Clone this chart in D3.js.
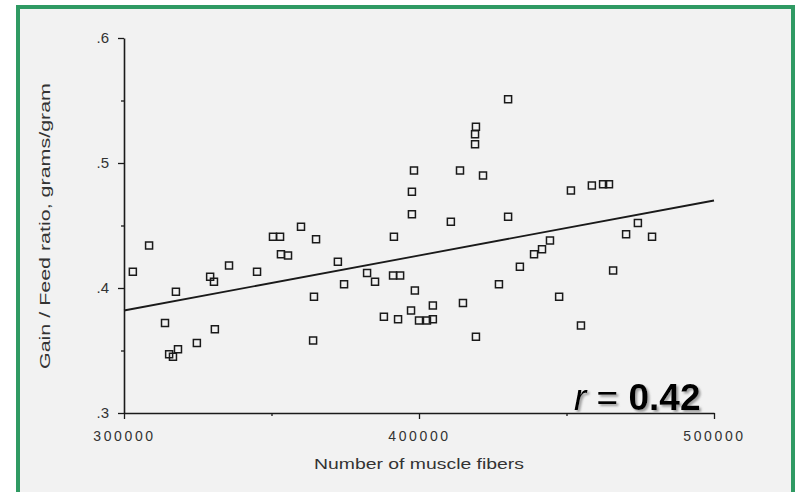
<!DOCTYPE html>
<html>
<head>
<meta charset="utf-8">
<script src="https://cdn.jsdelivr.net/npm/d3@7"></script>
<style>
  html, body { margin: 0; padding: 0; background: #fff; }
  svg { display: block; font-family: "Liberation Sans", Arial, sans-serif; }
</style>
</head>
<body>
<div id="main"></div>
<script>
// number of muscle fibers vs gain / feed ratio
const fiberCount = [
  303000, 308500, 317600, 313900, 315300, 316600, 318300, 324700, 329200, 330500,
  330800, 335600, 345100, 350500, 352900, 353200, 355600, 360000, 365100, 364400,
  364100, 372500, 382400, 374600, 385100, 391200, 393600, 391500, 398600, 404700,
  397300, 388100, 392900, 400000, 402700, 404700, 414900, 419300, 410800, 427100,
  430200, 419300, 419000, 419000, 398300, 413900, 421700, 397600, 397600,
  430200, 451500, 458600, 462400, 464400, 474200, 470200, 479000, 444400, 441700,
  439000, 434200, 465800, 447500, 454900
];
const gainFeed = [
  0.413, 0.434, 0.397, 0.372, 0.347, 0.345, 0.351, 0.356, 0.409, 0.405,
  0.367, 0.418, 0.413, 0.441, 0.441, 0.427, 0.426, 0.449, 0.439, 0.393,
  0.358, 0.421, 0.412, 0.403, 0.405, 0.410, 0.410, 0.441, 0.398, 0.386,
  0.382, 0.377, 0.375, 0.374, 0.374, 0.375, 0.388, 0.361, 0.453, 0.403,
  0.551, 0.529, 0.523, 0.515, 0.494, 0.494, 0.490, 0.477, 0.459,
  0.457, 0.478, 0.482, 0.483, 0.483, 0.452, 0.443, 0.441, 0.438, 0.431,
  0.427, 0.417, 0.414, 0.393, 0.370
];

// fitted line, ends
const fitX = [300000, 500000];
const fitY = [0.382, 0.470];

const yTicks = [0.3, 0.4, 0.5, 0.6];
const yMinor = [0.35, 0.45, 0.55];
const xTicks = [300000, 400000, 500000];
const xMinor = [350000, 450000];

const width = 796;
const height = 492;

const svg = d3.select("#main")
  .append("svg")
  .attr("width", width)
  .attr("height", height);

// soft shadow for the r label
svg.append("defs")
  .append("filter")
  .attr("id", "shade")
  .append("feDropShadow")
  .attr("dx", 2)
  .attr("dy", 2)
  .attr("stdDeviation", 0.8)
  .attr("flood-color", "#888")
  .attr("flood-opacity", 0.8);

// green frame with grey paper
svg.append("rect")
  .attr("x", 18)
  .attr("y", 7)
  .attr("width", 775)
  .attr("height", 500)
  .attr("fill", "#f2f2f2")
  .attr("stroke", "#2f9a63")
  .attr("stroke-width", 4);

const x = d3.scaleLinear().domain([300000, 500000]).range([124, 714]);
const y = d3.scaleLinear().domain([0.3, 0.6]).range([413, 38]);

const ink = "#1a1a1a";

// y axis
const yAxis = svg.append("g")
  .attr("transform", "translate(124,0)")
  .call(d3.axisLeft(y)
    .tickValues(yTicks)
    .tickSize(6)
    .tickSizeOuter(0)
    .tickPadding(9)
    .tickFormat(d => d3.format(".1f")(d).replace(/^0/, "")));

svg.append("g")
  .attr("transform", "translate(124,0)")
  .call(d3.axisLeft(y).tickValues(yMinor).tickSize(3).tickFormat(""))
  .select(".domain").remove();

// x axis
const xAxis = svg.append("g")
  .attr("transform", "translate(0,413)")
  .call(d3.axisBottom(x)
    .tickValues(xTicks)
    .tickSize(6)
    .tickSizeOuter(0)
    .tickPadding(12)
    .tickFormat(d3.format("d")));

svg.append("g")
  .attr("transform", "translate(0,413)")
  .call(d3.axisBottom(x).tickValues(xMinor).tickSize(3).tickFormat(""))
  .select(".domain").remove();

svg.selectAll(".domain").attr("stroke", ink).attr("stroke-width", 1.6);
svg.selectAll(".tick line").attr("stroke", ink).attr("stroke-width", 1.3);

yAxis.selectAll("text")
  .attr("fill", "#333")
  .style("font-size", "15px");

xAxis.selectAll("text")
  .attr("fill", "#333")
  .style("font-size", "14px")
  .style("letter-spacing", "2.6px");

// axis titles
svg.append("text")
  .attr("transform", "translate(50,226) rotate(-90)")
  .attr("text-anchor", "middle")
  .attr("fill", "#333")
  .attr("textLength", 286)
  .attr("lengthAdjust", "spacingAndGlyphs")
  .style("font-size", "14px")
  .text("Gain / Feed ratio, grams/gram");

svg.append("text")
  .attr("x", 419)
  .attr("y", 469)
  .attr("text-anchor", "middle")
  .attr("fill", "#333")
  .attr("textLength", 210)
  .attr("lengthAdjust", "spacingAndGlyphs")
  .style("font-size", "15px")
  .text("Number of muscle fibers");

// regression line
svg.append("line")
  .attr("x1", x(fitX[0]))
  .attr("y1", y(fitY[0]))
  .attr("x2", x(fitX[1]))
  .attr("y2", y(fitY[1]))
  .attr("stroke", ink)
  .attr("stroke-width", 1.8);

// points
const pts = fiberCount.map((f, i) => ({ f: f, g: gainFeed[i] }));
const s = 7;
svg.append("g")
  .selectAll("rect")
  .data(pts)
  .join("rect")
  .attr("x", d => x(d.f) - s / 2)
  .attr("y", d => y(d.g) - s / 2)
  .attr("width", s)
  .attr("height", s)
  .attr("fill", "none")
  .attr("stroke", ink)
  .attr("stroke-width", 1.5);

// r annotation
const note = [
  { t: "r", style: "italic", weight: "normal" },
  { t: " = ", style: "normal", weight: "normal" },
  { t: "0.42", style: "normal", weight: "bold" }
];
const rText = svg.append("text")
  .attr("x", 574)
  .attr("y", 410)
  .attr("fill", "#000")
  .attr("filter", "url(#shade)")
  .style("font-size", "37px");
note.forEach(n => {
  rText.append("tspan")
    .style("font-style", n.style)
    .style("font-weight", n.weight)
    .text(n.t);
});
</script>
</body>
</html>
